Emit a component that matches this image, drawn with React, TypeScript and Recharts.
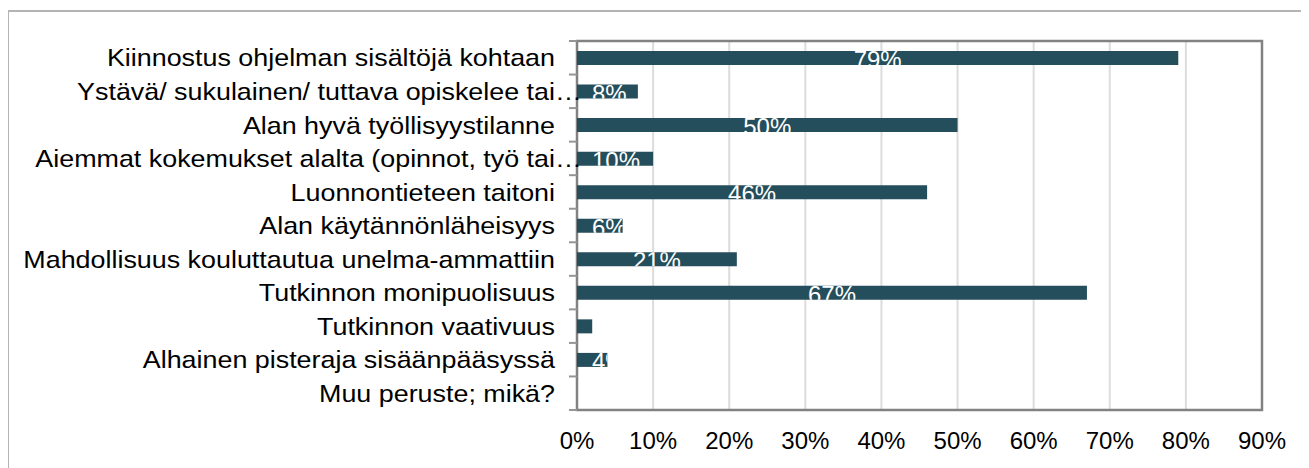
import React from 'react';
import { BarChart, Bar, XAxis, YAxis, CartesianGrid, LabelList, ReferenceArea } from 'recharts';

const categories = [
  'Kiinnostus ohjelman sisältöjä kohtaan',
  'Ystävä/ sukulainen/ tuttava opiskelee tai…',
  'Alan hyvä työllisyystilanne',
  'Aiemmat kokemukset alalta (opinnot, työ tai…',
  'Luonnontieteen taitoni',
  'Alan käytännönläheisyys',
  'Mahdollisuus kouluttautua unelma-ammattiin',
  'Tutkinnon monipuolisuus',
  'Tutkinnon vaativuus',
  'Alhainen pisteraja sisäänpääsyssä',
  'Muu peruste; mikä?',
];
const values = [79, 8, 50, 10, 46, 6, 21, 67, 2, 4, 0];
const xTicks = [0, 10, 20, 30, 40, 50, 60, 70, 80, 90];

const data = categories.map((name, i) => ({ name, value: values[i] }));

const FONT = '"Liberation Sans", Arial, sans-serif';
const AXIS = '#828282';
const TICK = '#959595';
const BAR = '#244e5b';
const CAT_MARGIN = 22;

const CatTick = (props: any) => {
  const { x, y, payload, index } = props;
  const label: string = String(payload.value);
  const ell = label.endsWith('…');
  const main = ell ? label.slice(0, -1) : label;
  const off = typeof payload.offset === 'number' ? payload.offset : 0;
  const ax = x + CAT_MARGIN;
  return (
    <g>
      {off > 0 && <line x1={ax - 8} x2={ax} y1={y - off} y2={y - off} stroke={TICK} strokeWidth={2} />}
      {off > 0 && index === categories.length - 1 && (
        <line x1={ax - 8} x2={ax} y1={y + off} y2={y + off} stroke={TICK} strokeWidth={2} />
      )}
      <g transform={`translate(${x},${y}) scale(1.12,1)`}>
        <text x={0} y={0} dy="0.36em" textAnchor="end" fontFamily={FONT} fontSize={24} fill="#000">
          {main}
        </text>
        {ell && (
          <text x={0} y={0} dy="0.36em" textAnchor="start" fontFamily={FONT} fontSize={24} fill="#000">
            …
          </text>
        )}
      </g>
    </g>
  );
};

const XTick = (props: any) => {
  const { x, y, payload } = props;
  return (
    <text x={x} y={y} dy="0.71em" textAnchor="middle" fontFamily={FONT} fontSize={24} fill="#000">
      {`${payload.value}%`}
    </text>
  );
};

const BarLabel = (props: any) => {
  const { x, y, width, height, value, index } = props;
  if (!width || width <= 0) return null;
  const txt = `${value}%`;
  const fs = 24;
  const w = (txt.length - 1) * 0.556 * fs + 0.889 * fs;
  const cx = x + width / 2;
  const tx = Math.max(cx - w / 2, x + 15);
  const id = `barclip-${index}`;
  return (
    <g>
      <defs>
        <clipPath id={id}>
          <rect x={x} y={y} width={width} height={height} />
        </clipPath>
      </defs>
      <text
        x={tx}
        y={y + height + 3}
        textAnchor="start"
        fontFamily={FONT}
        fontSize={fs}
        fill="#fff"
        clipPath={`url(#${id})`}
      >
        {txt}
      </text>
    </g>
  );
};

export default function App() {
  return (
    <div style={{ position: 'relative', margin: '-8px 0 0 -8px', width: 1309, height: 468, overflow: 'hidden', background: '#fff' }}>
      <div
        style={{
          position: 'absolute',
          left: 7,
          top: 10,
          width: 1400,
          height: 600,
          borderTop: '2px solid #b4b4b4',
          borderLeft: '2px solid #b4b4b4',
        }}
      />
      <div style={{ position: 'absolute', left: 0, top: 0 }}>
        <BarChart
          width={1309}
          height={468}
          data={data}
          layout="vertical"
          margin={{ top: 40, right: 47, bottom: 0, left: 0 }}
        >
          <CartesianGrid xAxisId="b" yAxisId="cat" horizontal={false} vertical stroke="#dcdcdc" strokeWidth={2} />
          <XAxis
            xAxisId="b"
            type="number"
            domain={[0, 90]}
            ticks={xTicks}
            orientation="bottom"
            height={58}
            axisLine={false}
            tickLine={false}
            tickSize={0}
            tickMargin={22}
            tick={<XTick />}
            interval={0}
          />
          <XAxis
            xAxisId="t"
            type="number"
            domain={[0, 90]}
            allowDataOverflow
            ticks={xTicks}
            orientation="top"
            height={1}
            axisLine={false}
            tickLine={{ stroke: TICK, strokeWidth: 2 }}
            tickSize={8}
            tick={false}
            interval={0}
          />
          <YAxis
            yAxisId="cat"
            type="category"
            dataKey="name"
            orientation="left"
            width={577}
            axisLine={false}
            tickLine={false}
            tickSize={0}
            tickMargin={CAT_MARGIN}
            tick={<CatTick />}
            interval={0}
          />
          <Bar xAxisId="b" yAxisId="cat" dataKey="value" fill={BAR} barSize={14} isAnimationActive={false}>
            <LabelList dataKey="value" content={<BarLabel />} />
          </Bar>
          <ReferenceArea
            xAxisId="b"
            yAxisId="cat"
            x1={0}
            x2={90}
            fill="none"
            fillOpacity={0}
            stroke={AXIS}
            strokeOpacity={1}
            strokeWidth={2.5}
            ifOverflow="visible"
          />
        </BarChart>
      </div>
    </div>
  );
}
